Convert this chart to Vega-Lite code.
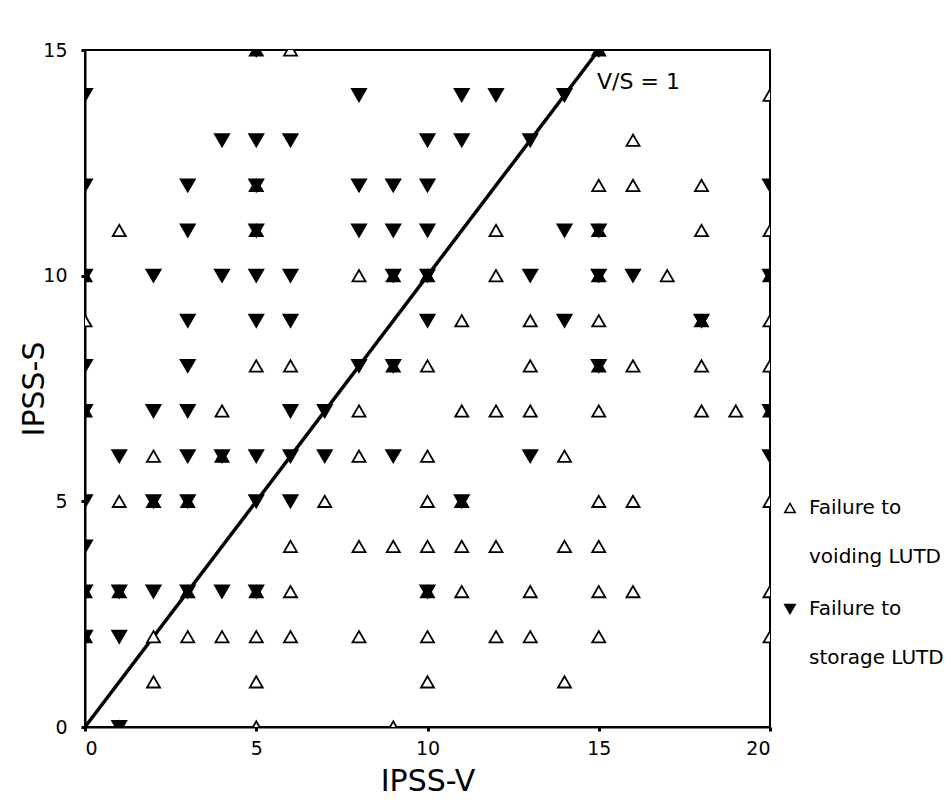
{
  "$schema": "https://vega.github.io/schema/vega-lite/v6.json",
  "autosize": {"type": "none"},
  "width": 685,
  "height": 677,
  "padding": {"left": 85, "top": 50, "right": 181, "bottom": 82},
  "background": "white",
  "config": {
    "view": {"stroke": "black", "strokeWidth": 2},
    "font": "DejaVu Sans",
    "style": {"guide-label": {"lineHeight": 49}},
    "axis": {
      "grid": false,
      "domainColor": "black",
      "domainWidth": 2,
      "tickColor": "black",
      "tickWidth": 3,
      "tickSize": 4,
      "labelColor": "black",
      "labelFont": "DejaVu Sans",
      "labelFontSize": 19,
      "titleColor": "black",
      "titleFont": "DejaVu Sans",
      "titleFontSize": 30,
      "titleFontWeight": "normal"
    }
  },
  "datasets": {
    "pts": [
      {"v": 6, "s": 15, "t": "voiding"}, {"v": 5, "s": 15, "t": "voiding"}, {"v": 15, "s": 15, "t": "voiding"},
      {"v": 20, "s": 14, "t": "voiding"},
      {"v": 16, "s": 13, "t": "voiding"},
      {"v": 15, "s": 12, "t": "voiding"}, {"v": 16, "s": 12, "t": "voiding"}, {"v": 18, "s": 12, "t": "voiding"}, {"v": 5, "s": 12, "t": "voiding"},
      {"v": 1, "s": 11, "t": "voiding"}, {"v": 12, "s": 11, "t": "voiding"}, {"v": 18, "s": 11, "t": "voiding"}, {"v": 20, "s": 11, "t": "voiding"}, {"v": 5, "s": 11, "t": "voiding"}, {"v": 15, "s": 11, "t": "voiding"},
      {"v": 8, "s": 10, "t": "voiding"}, {"v": 12, "s": 10, "t": "voiding"}, {"v": 17, "s": 10, "t": "voiding"}, {"v": 0, "s": 10, "t": "voiding"}, {"v": 9, "s": 10, "t": "voiding"}, {"v": 10, "s": 10, "t": "voiding"}, {"v": 15, "s": 10, "t": "voiding"}, {"v": 20, "s": 10, "t": "voiding"},
      {"v": 0, "s": 9, "t": "voiding"}, {"v": 11, "s": 9, "t": "voiding"}, {"v": 13, "s": 9, "t": "voiding"}, {"v": 15, "s": 9, "t": "voiding"}, {"v": 20, "s": 9, "t": "voiding"}, {"v": 18, "s": 9, "t": "voiding"},
      {"v": 5, "s": 8, "t": "voiding"}, {"v": 6, "s": 8, "t": "voiding"}, {"v": 10, "s": 8, "t": "voiding"}, {"v": 13, "s": 8, "t": "voiding"}, {"v": 16, "s": 8, "t": "voiding"}, {"v": 18, "s": 8, "t": "voiding"}, {"v": 20, "s": 8, "t": "voiding"}, {"v": 9, "s": 8, "t": "voiding"}, {"v": 15, "s": 8, "t": "voiding"},
      {"v": 4, "s": 7, "t": "voiding"}, {"v": 8, "s": 7, "t": "voiding"}, {"v": 11, "s": 7, "t": "voiding"}, {"v": 12, "s": 7, "t": "voiding"}, {"v": 13, "s": 7, "t": "voiding"}, {"v": 15, "s": 7, "t": "voiding"}, {"v": 18, "s": 7, "t": "voiding"}, {"v": 19, "s": 7, "t": "voiding"}, {"v": 0, "s": 7, "t": "voiding"}, {"v": 20, "s": 7, "t": "voiding"},
      {"v": 2, "s": 6, "t": "voiding"}, {"v": 8, "s": 6, "t": "voiding"}, {"v": 10, "s": 6, "t": "voiding"}, {"v": 14, "s": 6, "t": "voiding"}, {"v": 4, "s": 6, "t": "voiding"},
      {"v": 1, "s": 5, "t": "voiding"}, {"v": 7, "s": 5, "t": "voiding"}, {"v": 10, "s": 5, "t": "voiding"}, {"v": 15, "s": 5, "t": "voiding"}, {"v": 16, "s": 5, "t": "voiding"}, {"v": 20, "s": 5, "t": "voiding"}, {"v": 2, "s": 5, "t": "voiding"}, {"v": 3, "s": 5, "t": "voiding"}, {"v": 11, "s": 5, "t": "voiding"},
      {"v": 6, "s": 4, "t": "voiding"}, {"v": 8, "s": 4, "t": "voiding"}, {"v": 9, "s": 4, "t": "voiding"}, {"v": 10, "s": 4, "t": "voiding"}, {"v": 11, "s": 4, "t": "voiding"}, {"v": 12, "s": 4, "t": "voiding"}, {"v": 14, "s": 4, "t": "voiding"}, {"v": 15, "s": 4, "t": "voiding"},
      {"v": 6, "s": 3, "t": "voiding"}, {"v": 11, "s": 3, "t": "voiding"}, {"v": 13, "s": 3, "t": "voiding"}, {"v": 15, "s": 3, "t": "voiding"}, {"v": 16, "s": 3, "t": "voiding"}, {"v": 20, "s": 3, "t": "voiding"}, {"v": 0, "s": 3, "t": "voiding"}, {"v": 1, "s": 3, "t": "voiding"}, {"v": 3, "s": 3, "t": "voiding"}, {"v": 5, "s": 3, "t": "voiding"}, {"v": 10, "s": 3, "t": "voiding"},
      {"v": 2, "s": 2, "t": "voiding"}, {"v": 3, "s": 2, "t": "voiding"}, {"v": 4, "s": 2, "t": "voiding"}, {"v": 5, "s": 2, "t": "voiding"}, {"v": 6, "s": 2, "t": "voiding"}, {"v": 8, "s": 2, "t": "voiding"}, {"v": 10, "s": 2, "t": "voiding"}, {"v": 12, "s": 2, "t": "voiding"}, {"v": 13, "s": 2, "t": "voiding"}, {"v": 15, "s": 2, "t": "voiding"}, {"v": 20, "s": 2, "t": "voiding"}, {"v": 0, "s": 2, "t": "voiding"},
      {"v": 2, "s": 1, "t": "voiding"}, {"v": 5, "s": 1, "t": "voiding"}, {"v": 10, "s": 1, "t": "voiding"}, {"v": 14, "s": 1, "t": "voiding"},
      {"v": 5, "s": 0, "t": "voiding"}, {"v": 9, "s": 0, "t": "voiding"}, {"v": 1, "s": 0, "t": "voiding"},

      {"v": 5, "s": 15, "t": "storage"}, {"v": 15, "s": 15, "t": "storage"},
      {"v": 0, "s": 14, "t": "storage"}, {"v": 8, "s": 14, "t": "storage"}, {"v": 11, "s": 14, "t": "storage"}, {"v": 12, "s": 14, "t": "storage"}, {"v": 14, "s": 14, "t": "storage"},
      {"v": 4, "s": 13, "t": "storage"}, {"v": 5, "s": 13, "t": "storage"}, {"v": 6, "s": 13, "t": "storage"}, {"v": 10, "s": 13, "t": "storage"}, {"v": 11, "s": 13, "t": "storage"}, {"v": 13, "s": 13, "t": "storage"},
      {"v": 0, "s": 12, "t": "storage"}, {"v": 3, "s": 12, "t": "storage"}, {"v": 8, "s": 12, "t": "storage"}, {"v": 9, "s": 12, "t": "storage"}, {"v": 10, "s": 12, "t": "storage"}, {"v": 20, "s": 12, "t": "storage"}, {"v": 5, "s": 12, "t": "storage"},
      {"v": 3, "s": 11, "t": "storage"}, {"v": 8, "s": 11, "t": "storage"}, {"v": 9, "s": 11, "t": "storage"}, {"v": 10, "s": 11, "t": "storage"}, {"v": 14, "s": 11, "t": "storage"}, {"v": 5, "s": 11, "t": "storage"}, {"v": 15, "s": 11, "t": "storage"},
      {"v": 2, "s": 10, "t": "storage"}, {"v": 4, "s": 10, "t": "storage"}, {"v": 5, "s": 10, "t": "storage"}, {"v": 6, "s": 10, "t": "storage"}, {"v": 13, "s": 10, "t": "storage"}, {"v": 16, "s": 10, "t": "storage"}, {"v": 0, "s": 10, "t": "storage"}, {"v": 9, "s": 10, "t": "storage"}, {"v": 10, "s": 10, "t": "storage"}, {"v": 15, "s": 10, "t": "storage"}, {"v": 20, "s": 10, "t": "storage"},
      {"v": 3, "s": 9, "t": "storage"}, {"v": 5, "s": 9, "t": "storage"}, {"v": 6, "s": 9, "t": "storage"}, {"v": 10, "s": 9, "t": "storage"}, {"v": 14, "s": 9, "t": "storage"}, {"v": 18, "s": 9, "t": "storage"},
      {"v": 0, "s": 8, "t": "storage"}, {"v": 3, "s": 8, "t": "storage"}, {"v": 8, "s": 8, "t": "storage"}, {"v": 9, "s": 8, "t": "storage"}, {"v": 15, "s": 8, "t": "storage"},
      {"v": 2, "s": 7, "t": "storage"}, {"v": 3, "s": 7, "t": "storage"}, {"v": 6, "s": 7, "t": "storage"}, {"v": 7, "s": 7, "t": "storage"}, {"v": 0, "s": 7, "t": "storage"}, {"v": 20, "s": 7, "t": "storage"},
      {"v": 1, "s": 6, "t": "storage"}, {"v": 3, "s": 6, "t": "storage"}, {"v": 5, "s": 6, "t": "storage"}, {"v": 6, "s": 6, "t": "storage"}, {"v": 7, "s": 6, "t": "storage"}, {"v": 9, "s": 6, "t": "storage"}, {"v": 13, "s": 6, "t": "storage"}, {"v": 20, "s": 6, "t": "storage"}, {"v": 4, "s": 6, "t": "storage"},
      {"v": 0, "s": 5, "t": "storage"}, {"v": 5, "s": 5, "t": "storage"}, {"v": 6, "s": 5, "t": "storage"}, {"v": 2, "s": 5, "t": "storage"}, {"v": 3, "s": 5, "t": "storage"}, {"v": 11, "s": 5, "t": "storage"},
      {"v": 0, "s": 4, "t": "storage"},
      {"v": 2, "s": 3, "t": "storage"}, {"v": 4, "s": 3, "t": "storage"}, {"v": 0, "s": 3, "t": "storage"}, {"v": 1, "s": 3, "t": "storage"}, {"v": 3, "s": 3, "t": "storage"}, {"v": 5, "s": 3, "t": "storage"}, {"v": 10, "s": 3, "t": "storage"},
      {"v": 1, "s": 2, "t": "storage"}, {"v": 0, "s": 2, "t": "storage"},
      {"v": 1, "s": 0, "t": "storage"}
    ],
    "ref": [{"v": 0, "s": 0}, {"v": 15, "s": 15}],
    "ann": [{"v": 14.95, "s": 14.3, "label": "V/S = 1"}]
  },
  "layer": [
    {
      "data": {"name": "ref"},
      "mark": {"type": "line", "color": "black", "strokeWidth": 3.5},
      "encoding": {
        "x": {"field": "v", "type": "quantitative", "scale": {"domain": [0, 20], "nice": false}, "axis": {"values": [0, 5, 10, 15, 20], "title": "IPSS-V", "labelPadding": 8, "titlePadding": 8}},
        "y": {"field": "s", "type": "quantitative", "scale": {"domain": [0, 15], "nice": false}, "axis": {"values": [0, 5, 10, 15], "title": "IPSS-S", "labelPadding": 14, "titlePadding": -7}}
      }
    },
    {
      "data": {"name": "pts"},
      "transform": [
        {"joinaggregate": [{"op": "count", "as": "n"}], "groupby": ["v", "s"]},
        {"filter": "datum.t == 'voiding'"}
      ],
      "mark": {"type": "point", "clip": true, "filled": false, "strokeWidth": 1.8, "size": 170, "opacity": 1},
      "encoding": {
        "x": {"field": "v", "type": "quantitative"},
        "y": {"field": "s", "type": "quantitative"},
        "stroke": {
          "field": "t", "type": "nominal",
          "scale": {"domain": ["voiding", "storage"], "range": ["black", "black"]}
        },
        "shape": {
          "field": "t", "type": "nominal",
          "scale": {"domain": ["voiding", "storage"], "range": ["triangle-up", "triangle-down"]},
          "legend": {
            "title": null,
            "orient": "none",
            "legendX": 695,
            "legendY": 448,
            "symbolSize": 110,
            "symbolStrokeWidth": 1.5,
            "labelFont": "DejaVu Sans",
            "labelFontSize": 20,
            "labelColor": "black",
            "labelLimit": 300,
            "labelOffset": 9,
            "rowPadding": 32,
            "labelExpr": "datum.label == 'voiding' ? ['Failure to', ' voiding LUTD'] : ['Failure to', 'storage LUTD']"
          }
        },
        "fill": {
          "condition": {"test": "datum.n > 1", "value": "black"},
          "field": "t", "type": "nominal",
          "scale": {"domain": ["voiding", "storage"], "range": ["white", "black"]}
        }
      }
    },
    {
      "data": {"name": "pts"},
      "transform": [{"filter": "datum.t == 'storage'"}],
      "mark": {"type": "point", "clip": true, "filled": false, "strokeWidth": 1.8, "size": 200, "opacity": 1},
      "encoding": {
        "x": {"field": "v", "type": "quantitative"},
        "y": {"field": "s", "type": "quantitative"},
        "stroke": {"field": "t", "type": "nominal"},
        "shape": {"field": "t", "type": "nominal"},
        "fill": {"field": "t", "type": "nominal"}
      }
    },
    {
      "data": {"name": "ann"},
      "mark": {"type": "text", "align": "left", "baseline": "middle", "fontSize": 22, "font": "DejaVu Sans", "color": "black"},
      "encoding": {
        "x": {"field": "v", "type": "quantitative"},
        "y": {"field": "s", "type": "quantitative"},
        "text": {"field": "label"}
      }
    }
  ]
}
